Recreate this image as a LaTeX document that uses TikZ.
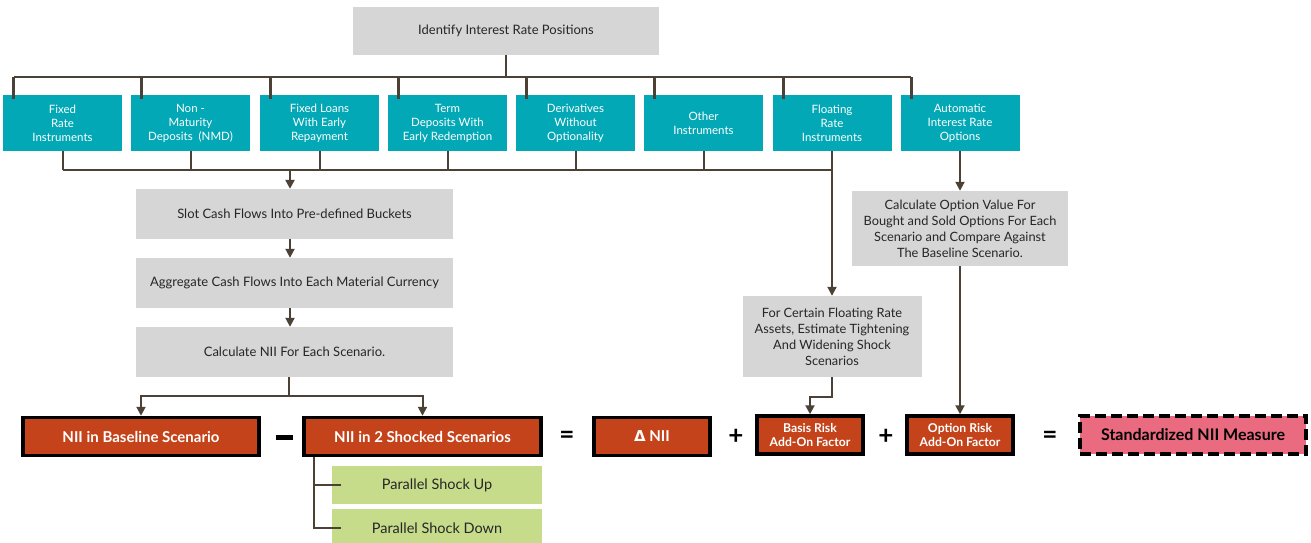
\documentclass[tikz,border=0pt]{standalone}
\usepackage{fontspec}
\setmainfont{Lato}
\newfontfamily\djv{DejaVu Sans}
\usetikzlibrary{arrows.meta}
\definecolor{lc}{RGB}{75,65,54}
\definecolor{grayb}{RGB}{214,214,214}
\definecolor{tealb}{RGB}{2,168,181}
\definecolor{orng}{RGB}{196,67,26}
\definecolor{pinkb}{RGB}{234,106,128}
\definecolor{greenb}{RGB}{198,220,139}
\begin{document}
\begin{tikzpicture}[x=1pt,y=-1pt,
  gbox/.style={fill=grayb, draw=none, align=center, text=black!85, font=\fontsize{13}{16}\selectfont, inner sep=0pt},
  tbox/.style={fill=tealb, text=white, align=center, minimum width=119pt, minimum height=56pt, font=\fontsize{11.5}{14}\selectfont, inner sep=0pt},
  obox/.style={fill=orng, draw=black, line width=3.5pt, text=white, font=\bfseries\fontsize{15}{16}\selectfont, align=center, inner sep=0pt, minimum height=38pt},
  sbox/.style={fill=orng, draw=black, line width=3.5pt, text=white, font=\bfseries\fontsize{12.2}{14}\selectfont, align=center, inner sep=0pt, minimum height=38pt, minimum width=106pt},
  grbox/.style={fill=greenb, text=black!85, font=\fontsize{14.5}{16}\selectfont, minimum width=210pt, minimum height=38pt, inner sep=0pt},
  sign/.style={font=\bfseries\fontsize{26}{26}\selectfont, inner sep=0pt},
  conn/.style={draw=lc, line width=2pt},
  busl/.style={draw=lc, line width=2.8pt},
  arr/.style={conn, -{Triangle[width=9pt,length=9pt]}},
]
\useasboundingbox (0,0) rectangle (1311,542);

% top box
\node[gbox, minimum width=306pt, minimum height=48pt] (top) at (506,31) {Identify Interest Rate Positions};

% teal boxes
\node[tbox] (t1) at (62.5,123) {Fixed\\Rate\\Instruments};
\node[tbox] (t2) at (190.5,123) {Non -\\Maturity\\Deposits\ \ (NMD)};
\node[tbox] (t3) at (319.5,123) {Fixed Loans\\With Early\\Repayment};
\node[tbox] (t4) at (447.5,123) {Term\\Deposits With\\Early Redemption};
\node[tbox] (t5) at (575.5,123) {Derivatives\\Without\\Optionality};
\node[tbox] (t6) at (703.5,123) {Other\\Instruments};
\node[tbox] (t7) at (832,123) {Floating\\Rate\\Instruments};
\node[tbox] (t8) at (960,123) {Automatic\\Interest Rate\\Options};

% gray process boxes
\node[gbox, minimum width=317pt, minimum height=50pt] (slot) at (294.5,214) {Slot Cash Flows Into Pre-defined Buckets};
\node[gbox, minimum width=317pt, minimum height=50pt] (agg) at (294.5,283) {Aggregate Cash Flows Into Each Material Currency};
\node[gbox, minimum width=317pt, minimum height=50pt] (calc) at (294.5,352) {Calculate NII For Each Scenario.};
\node[gbox, minimum width=216pt, minimum height=75pt, font=\fontsize{12.8}{16}\selectfont] (copt) at (960,228.5) {Calculate Option Value For\\Bought and Sold Options For Each\\Scenario and Compare Against\\The Baseline Scenario.};
\node[gbox, minimum width=179pt, minimum height=81pt, font=\fontsize{12.8}{16}\selectfont] (fc) at (832,336.5) {For Certain Floating Rate\\Assets, Estimate Tightening\\And Widening Shock\\Scenarios};

% result row
\node[obox, minimum width=236pt] (base) at (141,436.5) {NII in Baseline Scenario};
\node[obox, minimum width=237pt] (shock) at (422.5,436.5) {NII in 2 Shocked Scenarios};
\node[obox, minimum width=116pt] (dnii) at (652,436.5) {{\djv\bfseries Δ} NII};
\node[sbox] (basis) at (810,435) {Basis Risk\\Add-On Factor};
\node[sbox] (optr) at (960,435) {Option Risk\\Add-On Factor};
\node[fill=pinkb, draw=black, line width=4pt, dash pattern=on 11pt off 5pt, minimum width=226pt, minimum height=38pt, inner sep=0pt, font=\bfseries\fontsize{16}{16}\selectfont] (std) at (1193,435) {Standardized NII Measure};

\node[inner sep=0pt] (s1) at (284,437) {\rule{17pt}{5pt}};
\node[sign] (s2) at (567,437) {=};
\node[sign] (s3) at (736,437) {+};
\node[sign] (s4) at (886,437) {+};
\node[sign] (s5) at (1050,437) {=};

% green boxes
\node[grbox] (g1) at (437,485) {Parallel Shock Up};
\node[grbox] (g2) at (437,528) {Parallel Shock Down};

% top bus
\coordinate (bus) at (506,77);
\draw[busl] (top.south) -- (bus);
\draw[busl] ([xshift=11pt]t1.north west |- bus) -- ([xshift=11pt]t8.north west |- bus);
\foreach \n in {t1,t2,t3,t4,t5,t6,t7,t8}
  \draw[busl] ([xshift=11pt]\n.north west |- bus) -- ([xshift=11pt,yshift=-4pt]\n.north west);

% bottom bus
\coordinate (bb) at (290,170);
\foreach \n in {t1,t2,t3,t4,t5,t6}
  \draw[conn] (\n.south) -- (\n.south |- bb);
\draw[conn] (t1.south |- bb) -- (t7.south |- bb);
\draw[arr] (t7.south) -- (fc.north);
\draw[arr, line width=2.4pt] (bb) -- (bb |- slot.north);
\draw[arr] (bb |- slot.south) -- (bb |- agg.north);
\draw[arr] (bb |- agg.south) -- (bb |- calc.north);

% split to baseline / shocked
\coordinate (sp) at (289,396);
\draw[conn] (sp |- calc.south) -- (sp);
\draw[arr] (sp) -| (base.north);
\draw[arr] (sp) -| (shock.north);

% right side
\draw[arr] (t8.south) -- (copt.north);
\draw[arr] (copt.south) -- (optr.north);
\coordinate (fb) at (832,397);
\draw[arr] (fc.south) -- (fb) -| (basis.north);

% bracket to green boxes
\draw[conn] ([xshift=12pt]shock.south west) |- ([xshift=9pt]g2.west);
\draw[conn] ([xshift=12pt]shock.south west |- g1.west) -- ([xshift=9pt]g1.west);
\end{tikzpicture}
\end{document}
